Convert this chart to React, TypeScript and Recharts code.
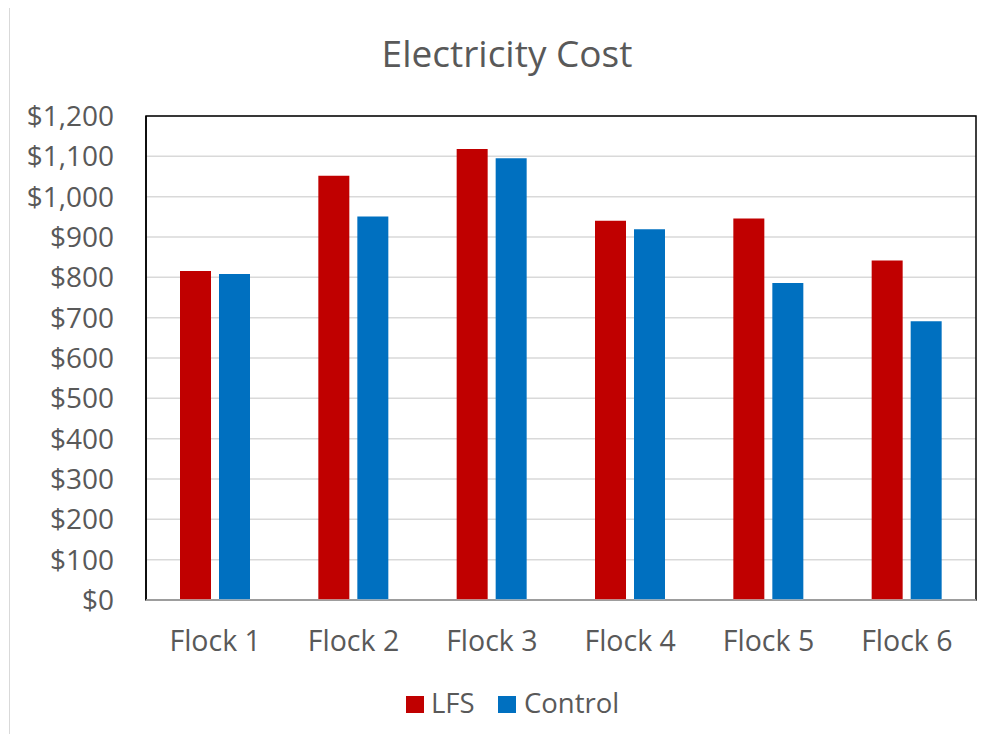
import React from "react";
import { BarChart, Bar, XAxis, YAxis, CartesianGrid, ReferenceArea } from "recharts";

const categories = ["Flock 1", "Flock 2", "Flock 3", "Flock 4", "Flock 5", "Flock 6"];
const lfsValues = [816, 1052, 1118, 940, 946, 842];
const controlValues = [808, 951, 1095, 919, 786, 691];
const yTicks = [0, 100, 200, 300, 400, 500, 600, 700, 800, 900, 1000, 1100, 1200];
const seriesNames = ["LFS", "Control"];
const seriesColors = ["#C00000", "#0070C0"];

const data = categories.map((c, i) => ({ name: c, lfs: lfsValues[i], control: controlValues[i] }));

const FONT = "'Open Sans', 'Noto Sans', sans-serif";
const TEXT = "#595959";

const fmt = (v: number) => "$" + v.toLocaleString("en-US");

export default function App() {
  return (
    <div style={{ position: "relative", width: 994, height: 742, margin: -8, overflow: "hidden", background: "#fff" }}>
      <div
        style={{
          position: "absolute",
          left: 9,
          top: 7,
          width: 1100,
          height: 900,
          border: "1.5px solid #d9d9d9",
          boxSizing: "border-box",
        }}
      />
      <div style={{ position: "absolute", left: 0, top: 0 }}>
        <BarChart
          width={994}
          height={742}
          data={data}
          margin={{ top: 116, right: 18, bottom: 82, left: 16 }}
          barSize={31}
          barGap={8}
        >
          <CartesianGrid horizontal={true} vertical={false} stroke="#d9d9d9" strokeWidth={1.5} />
          <ReferenceArea y1={0} y2={1200} fill="none" fillOpacity={0} stroke="#000" strokeWidth={1.5} ifOverflow="visible" />
          <YAxis
            width={130}
            domain={[0, 1200]}
            ticks={yTicks}
            interval={0}
            tickFormatter={fmt}
            axisLine={{ stroke: "#000", strokeWidth: 1.5 }}
            tickLine={false}
            tickSize={0}
            tickMargin={32}
            tick={{ fill: TEXT, fontSize: 28, fontFamily: FONT }}
          />
          <Bar dataKey="lfs" name={seriesNames[0]} fill={seriesColors[0]} isAnimationActive={false} />
          <Bar dataKey="control" name={seriesNames[1]} fill={seriesColors[1]} isAnimationActive={false} />
          <XAxis
            dataKey="name"
            height={60}
            axisLine={{ stroke: "#bfbfbf", strokeWidth: 1.5 }}
            tickLine={false}
            tickSize={0}
            tickMargin={31}
            tick={{ fill: TEXT, fontSize: 28.5, fontFamily: FONT }}
            interval={0}
          />
        </BarChart>
      </div>
      <svg width={994} height={742} style={{ position: "absolute", left: 0, top: 0, pointerEvents: "none" }}>
        <text x={507} y={66.5} textAnchor="middle" fontSize={37} fontFamily={FONT} fill={TEXT}>
          Electricity Cost
        </text>
        <rect x={406} y={696} width={18} height={17} fill={seriesColors[0]} />
        <text x={431} y={713} fontSize={27.5} fontFamily={FONT} fill={TEXT}>
          {seriesNames[0]}
        </text>
        <rect x={498} y={696} width={18} height={17} fill={seriesColors[1]} />
        <text x={524} y={713} fontSize={27.5} fontFamily={FONT} fill={TEXT}>
          {seriesNames[1]}
        </text>
      </svg>
    </div>
  );
}
